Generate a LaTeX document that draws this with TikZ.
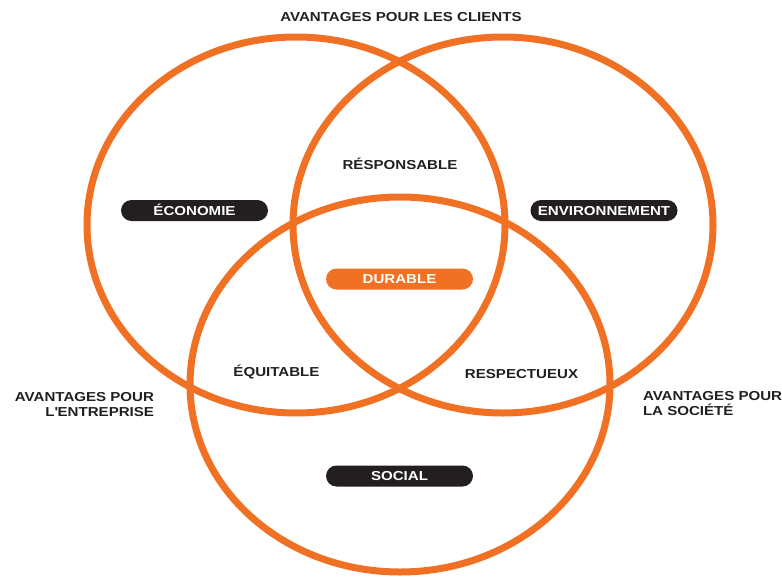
\documentclass[tikz,border=0pt]{standalone}
\usepackage{fontspec}
\setmainfont{Liberation Sans}[FakeStretch=1.16]
\usepackage{tikz}
\newdimen\pillw
\newdimen\pillh
\pillw=147pt
\pillh=21pt
\definecolor{venn}{RGB}{241,113,36}
\definecolor{ink}{RGB}{35,31,32}
\tikzstyle{ring}=[
  draw=venn,
  line width=7pt,
]
\tikzstyle{words}=[
  font={\fontsize{13}{15}\selectfont\bfseries},
  inner sep=0pt,
  outer sep=0pt,
  text=ink,
]
\tikzstyle{pill}=[
  words,
  fill=ink,
  minimum height=\pillh,
  minimum width=\pillw,
  rectangle,
  rounded corners=\pillh/2,
  text=white,
  text height=9.3pt,
  text depth=0pt,
]

\begin{document}
\begin{tikzpicture}[x=1pt, y=-1pt]
      \useasboundingbox (0,0) rectangle (782,579);
      \draw [ring] (296,225) ellipse [x radius=209pt, y radius=188pt];
      \draw [ring] (503,225) ellipse [x radius=210pt, y radius=188pt];
      \draw [ring] (400,384.5) ellipse [x radius=210pt, y radius=187.5pt];
      \node (economie) [pill] at (194.5,210.5) {ÉCONOMIE};
      \node (environnement) [pill] at (604,210.5) {ENVIRONNEMENT};
      \node (durable) [pill, fill=venn] at (399.5,279) {DURABLE};
      \node (social) [pill] at (399.5,476) {SOCIAL};
      \node (responsable) [words, anchor=base] at (400,169) {RÉSPONSABLE};
      \node (equitable) [words, anchor=base] at (276.5,376) {ÉQUITABLE};
      \node (respectueux) [words, anchor=base] at (521.5,378) {RESPECTUEUX};
      \node (clients) [words, anchor=base] at (401,21) {AVANTAGES POUR LES CLIENTS};
      \node (entreprise) [words, anchor=north east, align=right] at (154,392)
        {AVANTAGES POUR\\L\textquotesingle ENTREPRISE};
      \node (societe) [words, anchor=north west, align=left] at (643,391)
        {AVANTAGES POUR\\LA SOCIÉTÉ};
    \end{tikzpicture}
\end{document}
